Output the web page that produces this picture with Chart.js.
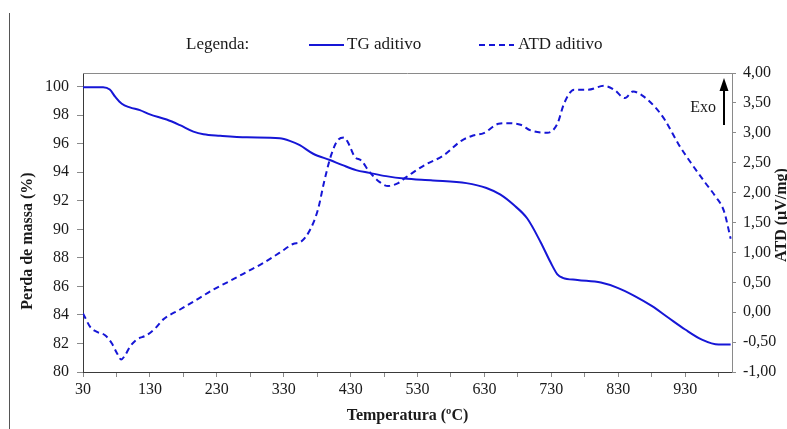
<!DOCTYPE html>
<html>
<head>
<meta charset="utf-8">
<script src="https://cdn.jsdelivr.net/npm/chart.js@4/dist/chart.umd.min.js"></script>
<style>
  html, body { margin: 0; padding: 0; background: #fff; overflow: hidden; }
  canvas { display: block; }
</style>
</head>
<body>
<canvas id="c" width="787" height="429"></canvas>
<script>
// Thermogravimetric curve (TG): temperature (ºC) and remaining mass (%)
const tgTemp = [30, 60, 70, 78, 88, 100, 115, 130, 155, 175, 195, 210, 235, 275, 324,
  339, 354, 374, 399, 418, 438, 458, 483, 510, 553, 603, 633, 654, 674, 694,
  714, 729, 739, 747, 769, 804, 829, 854, 880, 905, 930, 955, 980, 998];
const tgMass = [99.96, 99.96, 99.8, 99.3, 98.8, 98.55, 98.36, 98.06, 97.7, 97.3, 96.85, 96.66, 96.56, 96.45, 96.38,
  96.2, 95.9, 95.3, 94.86, 94.5, 94.15, 93.96, 93.73, 93.56, 93.43, 93.24, 92.9, 92.43, 91.7, 90.76,
  89.1, 87.67, 86.85, 86.6, 86.45, 86.27, 85.9, 85.34, 84.63, 83.8, 82.98, 82.27, 81.92, 81.92];

// Differential thermal analysis curve (ATD): temperature (ºC) and signal (µV/mg)
const atdTemp = [30, 41, 51, 63, 73, 81, 87, 93, 100, 110, 125, 138, 150, 175, 200,
  225, 250, 275, 299, 324, 344, 356, 369, 381, 391, 401, 411, 420, 426, 436,
  446, 458, 473, 486, 501, 512, 523, 543, 568, 596, 613, 629, 651, 664, 684,
  699, 724, 739, 749, 764, 784, 809, 824, 840, 852, 865, 885, 900, 920, 940,
  960, 975, 988, 998];
const atdSignal = [-0.02, -0.25, -0.33, -0.385, -0.52, -0.69, -0.79, -0.72, -0.58, -0.46, -0.385, -0.27, -0.12, 0.045, 0.21,
  0.38, 0.525, 0.675, 0.82, 0.995, 1.14, 1.18, 1.37, 1.71, 2.21, 2.63, 2.88, 2.92, 2.84, 2.60,
  2.535, 2.35, 2.18, 2.11, 2.16, 2.25, 2.335, 2.475, 2.615, 2.87, 2.955, 2.995, 3.15, 3.16, 3.135,
  3.04, 3.0, 3.15, 3.49, 3.72, 3.72, 3.785, 3.72, 3.58, 3.69, 3.63, 3.43, 3.21, 2.81, 2.475,
  2.165, 1.94, 1.69, 1.23];

// Axis ticks and labels
const tempTicks = [30, 80, 130, 180, 230, 280, 330, 380, 430, 480, 530, 580, 630, 680, 730, 780, 830, 880, 930, 980];
const tempLabels = [30, 130, 230, 330, 430, 530, 630, 730, 830, 930];
const massTicks = [80, 82, 84, 86, 88, 90, 92, 94, 96, 98, 100];
const atdTicks = [-1, -0.5, 0, 0.5, 1, 1.5, 2, 2.5, 3, 3.5, 4];

const seriesNames = ['TG aditivo', 'ATD aditivo'];
const legendHeading = 'Legenda:';
const exoLabel = 'Exo';
const titleMass = 'Perda de massa (%)';
const titleAtd = 'ATD (µV/mg)';
const titleTemp = 'Temperatura (ºC)';

const BLUE = '#1616d6';
const INK = '#1a1a1a';
const SERIF = '"Liberation Serif", "Times New Roman", serif';
const DASH = [6, 4];

const toTicks = arr => arr.map(v => ({ value: v }));

const decorations = {
  id: 'decorations',
  afterDraw(chart) {
    const { ctx, chartArea: a } = chart;
    ctx.save();

    // upper edge of the plot frame
    ctx.strokeStyle = '#8a8a8a';
    ctx.lineWidth = 1;
    ctx.beginPath();
    ctx.moveTo(a.left, a.top + 0.5);
    ctx.lineTo(a.right, a.top + 0.5);
    ctx.stroke();

    // page margin rule
    ctx.strokeStyle = '#555';
    ctx.beginPath();
    ctx.moveTo(9.5, 13);
    ctx.lineTo(9.5, 429);
    ctx.stroke();

    // axis titles
    ctx.fillStyle = INK;
    ctx.font = 'bold 16px ' + SERIF;
    ctx.textAlign = 'center';
    ctx.textBaseline = 'middle';
    ctx.save();
    ctx.translate(28, 241);
    ctx.rotate(-Math.PI / 2);
    ctx.fillText(titleMass, 0, 0);
    ctx.restore();
    ctx.save();
    ctx.translate(782, 215);
    ctx.rotate(-Math.PI / 2);
    ctx.fillText(titleAtd, 0, 0);
    ctx.restore();
    ctx.fillText(titleTemp, (a.left + a.right) / 2, 416);

    // legend
    const ly = 45;
    ctx.font = '17px ' + SERIF;
    ctx.textAlign = 'left';
    ctx.fillText(legendHeading, 186, ly);
    const ds = chart.data.datasets;
    const items = [{ x0: 309, x1: 344, tx: 347 }, { x0: 479, x1: 514, tx: 518 }];
    items.forEach((it, i) => {
      ctx.strokeStyle = ds[i].borderColor;
      ctx.lineWidth = 2;
      ctx.setLineDash(ds[i].borderDash || []);
      ctx.beginPath();
      ctx.moveTo(it.x0, ly);
      ctx.lineTo(it.x1, ly);
      ctx.stroke();
      ctx.setLineDash([]);
      ctx.fillStyle = INK;
      ctx.fillText(ds[i].label, it.tx, ly);
    });

    // exothermic direction arrow
    ctx.strokeStyle = '#000';
    ctx.fillStyle = '#000';
    ctx.lineWidth = 2;
    ctx.beginPath();
    ctx.moveTo(724, 125);
    ctx.lineTo(724, 90);
    ctx.stroke();
    ctx.beginPath();
    ctx.moveTo(724, 78);
    ctx.lineTo(719.5, 91);
    ctx.lineTo(728.5, 91);
    ctx.closePath();
    ctx.fill();
    ctx.fillStyle = INK;
    ctx.font = '16px ' + SERIF;
    ctx.textAlign = 'right';
    ctx.fillText(exoLabel, 716, 108);

    ctx.restore();
  }
};

new Chart(document.getElementById('c'), {
  type: 'line',
  data: {
    datasets: [
      {
        label: seriesNames[0],
        data: tgTemp.map((t, i) => ({ x: t, y: tgMass[i] })),
        yAxisID: 'yMass',
        borderColor: BLUE,
        borderWidth: 2,
        pointRadius: 0,
        fill: false,
        cubicInterpolationMode: 'monotone'
      },
      {
        label: seriesNames[1],
        data: atdTemp.map((t, i) => ({ x: t, y: atdSignal[i] })),
        yAxisID: 'yAtd',
        borderColor: BLUE,
        borderWidth: 2,
        borderDash: DASH,
        pointRadius: 0,
        fill: false,
        cubicInterpolationMode: 'monotone'
      }
    ]
  },
  options: {
    responsive: false,
    animation: false,
    devicePixelRatio: 1,
    layout: { padding: { top: 73, left: 0, right: 0, bottom: 0 } },
    plugins: { legend: { display: false }, tooltip: { enabled: false } },
    scales: {
      x: {
        type: 'linear',
        min: 30,
        max: 1000,
        afterBuildTicks: s => { s.ticks = toTicks(tempTicks); },
        afterFit: s => { s.height = 57; },
        grid: { drawOnChartArea: false, drawTicks: true, tickLength: 5, color: '#8a8a8a' },
        border: { color: '#3a3a3a', width: 1 },
        ticks: {
          autoSkip: false, maxRotation: 0, minRotation: 0, padding: 3, color: INK,
          font: { family: SERIF, size: 16 },
          callback: v => tempLabels.includes(v) ? String(v) : ''
        }
      },
      yMass: {
        type: 'linear',
        position: 'left',
        min: 80,
        max: 100.96,
        afterBuildTicks: s => { s.ticks = toTicks(massTicks); },
        afterFit: s => { s.width = 83; },
        grid: { drawOnChartArea: false, drawTicks: true, tickLength: 6, color: '#8a8a8a' },
        border: { color: '#3a3a3a', width: 1 },
        ticks: {
          padding: 8, color: INK, font: { family: SERIF, size: 16 },
          callback: v => String(v)
        }
      },
      yAtd: {
        type: 'linear',
        position: 'right',
        min: -1,
        max: 4,
        afterBuildTicks: s => { s.ticks = toTicks(atdTicks); },
        afterFit: s => { s.width = 55; },
        grid: { drawOnChartArea: false, drawTicks: true, tickLength: 4, color: '#8a8a8a' },
        border: { color: '#8a8a8a', width: 1 },
        ticks: {
          padding: 7, color: INK, font: { family: SERIF, size: 16 },
          callback: v => v.toFixed(2).replace('.', ',')
        }
      }
    }
  },
  plugins: [decorations]
});
</script>
</body>
</html>
